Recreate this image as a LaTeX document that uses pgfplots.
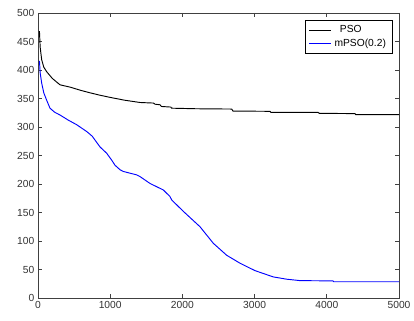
\documentclass[border=0pt]{standalone}
\usepackage{fontspec}
\setmainfont{Liberation Sans}
\usepackage{pgfplots}
\pgfplotsset{compat=1.18}
\begin{document}
\fontsize{7.7}{9}\selectfont
\begin{tikzpicture}
\begin{axis}[
  scale only axis,
  width=270.75pt, height=213.75pt,
  xmin=0, xmax=5000, ymin=0, ymax=500,
  xtick={0,1000,2000,3000,4000,5000},
  ytick={0,50,100,150,200,250,300,350,400,450,500},
  tick align=inside,
  major tick length=3pt,
  /pgf/number format/assume math mode=true,
  scaled x ticks=false,
  xticklabel style={/pgf/number format/set thousands separator={}},
  tick label style={font=\fontsize{7.7}{9}\selectfont, text=black!80},
  axis line style={black!75, line width=0.6pt},
  every tick/.style={black!75, line width=0.6pt},
  legend style={at={(0.983,0.975)}, anchor=north east,
    font=\fontsize{7.7}{9}\selectfont, inner xsep=3pt, inner ysep=2pt, row sep=-0.5pt},
  legend cell align=left,
]
\coordinate (sw) at (rel axis cs:0,0);
\coordinate (ne) at (rel axis cs:1,1);
\addplot[black, line width=0.7pt,
  legend image code/.code={\draw[black, line width=0.8pt] (0pt,0pt) -- (16.5pt,0pt);}] coordinates {
(20,468)(30,440)(51,418)(80,405)(120,397)(200,385)(305,374)(443,370)(600,364)(720,360)(850,356)(997,352)(1200,347)(1413,343)(1600,342)(1620,340)(1690,339)(1710,336)(1840,335)(1850,333)(2198,332)(2683,331.5)(2700,328)(3213,327.5)(3225,325.8)(3882,325.5)(3895,324)(4390,323.5)(4400,321.6)(5000,321.6)
};
\addlegendentry{\hspace{4pt}PSO}
\addplot[blue, line width=0.7pt,
  legend image code/.code={\draw[blue, line width=0.8pt] (0pt,0pt) -- (16.5pt,0pt);}] coordinates {
(20,416)(30,395)(51,377)(80,360)(120,347)(166,333)(230,326)(305,321)(420,312)(536,304)(675,292)(750,284)(813,273)(859,265)(951,254)(1020,242)(1066,233)(1136,225)(1182,222)(1274,219)(1367,216)(1413,213)(1551,201)(1736,189.5)(1828,178)(1852,172)(2013,152)(2244,125)(2428,96)(2613,75)(2798,61)(3006,48)(3259,37)(3444,33)(3629,30.5)(4086,30)(4095,28.5)(5000,28.5)
};
\addlegendentry{mPSO(0.2)\hspace{12pt}}
\end{axis}
\pgfresetboundingbox
\path[use as bounding box] ([xshift=-28.5pt,yshift=-16.5pt]sw) rectangle ([xshift=11.25pt,yshift=9.75pt]ne);
\end{tikzpicture}
\end{document}
